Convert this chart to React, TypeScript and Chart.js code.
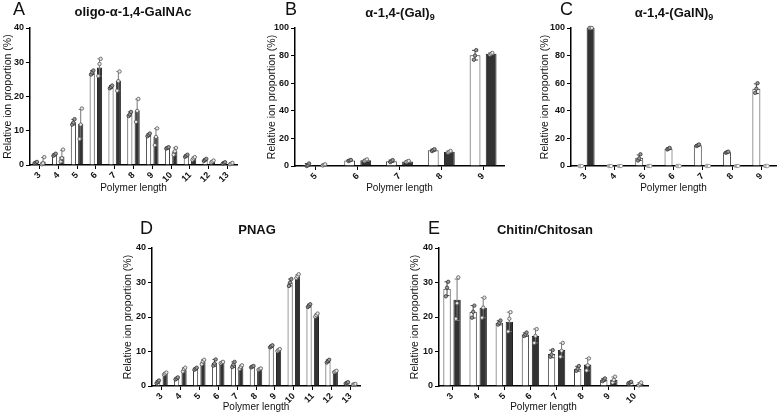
import React, { useEffect, useRef } from "react";
import { Chart, registerables } from "chart.js";

Chart.register(...registerables);

const FONT = "'Liberation Sans', Arial, sans-serif";

const Y_TITLE = "Relative ion proportion (%)";
const X_TITLE = "Polymer length";

// ---------- Panel A: oligo-α-1,4-GalNAc ----------
const catsA = ["3", "4", "5", "6", "7", "8", "9", "10", "11", "12", "13"];
const meanA1 = [0.7, 3.0, 12.5, 27.0, 22.8, 14.9, 8.8, 5.0, 2.7, 1.5, 0.6];
const sdA1 = [0.2, 0.3, 0.8, 0.6, 0.4, 0.6, 0.4, 0.2, 0.3, 0.3, 0.2];
const repA1 = [[0.5, 0.7, 0.9], [2.7, 3.0, 3.3], [11.8, 12.4, 13.4], [26.4, 27.0, 27.6], [22.4, 22.8, 23.2], [14.3, 14.8, 15.5], [8.4, 8.8, 9.2], [4.8, 5.0, 5.2], [2.4, 2.7, 3.0], [1.2, 1.5, 1.8], [0.4, 0.6, 0.8]];
const meanA2 = [1.0, 2.5, 12.0, 28.5, 24.5, 15.9, 8.2, 4.0, 1.9, 1.0, 0.4];
const sdA2 = [1.2, 1.8, 4.2, 2.5, 2.8, 3.3, 2.4, 1.0, 0.4, 0.3, 0.2];
const repA2 = [[0.2, 0.5, 2.3], [1.0, 2.0, 4.5], [7.6, 11.8, 16.5], [26.0, 29.5, 31.0], [21.7, 24.5, 27.3], [12.6, 15.8, 19.3], [5.8, 8.2, 10.7], [3.0, 4.0, 5.0], [1.5, 1.9, 2.3], [0.7, 1.0, 1.3], [0.2, 0.4, 0.6]];

// ---------- Panel B: α-1,4-(Gal)9 ----------
const catsB = ["5", "6", "7", "8", "9"];
const meanB1 = [0.8, 4.0, 3.5, 11.5, 80.3];
const sdB1 = [1.0, 0.4, 0.8, 0.7, 3.5];
const repB1 = [[0.0, 0.5, 1.8], [3.6, 4.0, 4.4], [2.8, 3.5, 4.3], [10.8, 11.5, 12.2], [77.0, 80.0, 84.0]];
const meanB2 = [0.8, 4.2, 3.3, 10.3, 81.3];
const sdB2 = [0.4, 0.6, 0.4, 0.6, 0.6];
const repB2 = [[0.4, 0.8, 1.2], [3.6, 4.2, 4.8], [2.9, 3.3, 3.7], [9.7, 10.3, 10.9], [80.7, 81.3, 81.9]];

// ---------- Panel C: α-1,4-(GalN)9 ----------
const catsC = ["3", "4", "5", "6", "7", "8", "9"];
const meanC1 = [0, 0, 6.0, 12.5, 15.0, 10.0, 56.0];
const sdC1 = [0, 0, 2.0, 0.6, 0.6, 0.5, 3.5];
const repC1 = [[0, 0, 0], [0, 0, 0], [4.0, 5.5, 8.5], [12.0, 12.5, 13.1], [14.5, 15.0, 15.6], [9.6, 10.0, 10.4], [53.0, 56.0, 60.0]];
const meanC2 = [100, 0, 0, 0, 0, 0, 0];
const sdC2 = [0, 0, 0, 0, 0, 0, 0];
const repC2 = [[100, 100, 100], [0, 0, 0], [0, 0, 0], [0, 0, 0], [0, 0, 0], [0, 0, 0], [0, 0, 0]];

// ---------- Panel D: PNAG ----------
const catsD = ["3", "4", "5", "6", "7", "8", "9", "10", "11", "12", "13"];
const meanD1 = [1.2, 2.2, 5.0, 6.7, 6.2, 5.6, 11.5, 30.0, 23.3, 7.2, 0.9];
const sdD1 = [0.4, 0.3, 0.3, 1.0, 0.8, 0.2, 0.3, 1.0, 0.4, 0.4, 0.2];
const repD1 = [[0.8, 1.2, 1.6], [1.9, 2.2, 2.5], [4.7, 5.0, 5.3], [5.9, 6.5, 7.7], [5.5, 6.2, 7.0], [5.4, 5.6, 5.8], [11.2, 11.5, 11.8], [29.0, 30.0, 31.0], [22.9, 23.3, 23.7], [6.8, 7.2, 7.6], [0.7, 0.9, 1.1]];
const meanD2 = [3.6, 4.8, 7.0, 6.8, 5.5, 4.9, 10.4, 31.8, 20.5, 4.2, 0.5];
const sdD2 = [0.3, 0.5, 0.6, 0.2, 0.5, 0.2, 0.3, 0.5, 0.4, 0.2, 0.1];
const repD2 = [[3.3, 3.6, 3.9], [4.2, 4.9, 5.3], [6.3, 7.1, 7.6], [6.6, 6.8, 7.0], [4.9, 5.5, 6.0], [4.7, 4.9, 5.1], [10.1, 10.4, 10.7], [31.3, 31.8, 32.4], [20.1, 20.5, 21.0], [4.0, 4.2, 4.4], [0.4, 0.5, 0.6]];

// ---------- Panel E: Chitin/Chitosan ----------
const catsE = ["3", "4", "5", "6", "7", "8", "9", "10"];
const meanE1 = [28.2, 21.5, 18.3, 14.9, 9.3, 5.0, 1.8, 1.0];
const sdE1 = [2.0, 1.8, 0.6, 0.5, 1.1, 0.7, 0.4, 0.2];
const repE1 = [[26.0, 28.5, 30.2], [19.8, 21.5, 23.3], [17.8, 18.3, 19.0], [14.5, 14.9, 15.5], [8.5, 9.1, 10.4], [4.4, 5.0, 5.8], [1.4, 1.8, 2.2], [0.8, 1.0, 1.2]];
const meanE2 = [25.0, 22.7, 18.6, 14.5, 10.4, 6.2, 1.8, 0.6];
const sdE2 = [6.0, 2.9, 2.8, 2.0, 2.0, 1.8, 0.8, 0.4];
const repE2 = [[19.5, 24.0, 31.5], [19.8, 22.7, 25.6], [15.8, 19.5, 21.4], [12.5, 14.5, 16.5], [8.5, 10.2, 12.5], [4.5, 6.0, 8.0], [1.0, 1.8, 2.7], [0.2, 0.6, 1.0]];

type Seg = { t: string; sub?: boolean };
type PanelCfg = {
  letter: string;
  title: Seg[];
  cats: string[];
  m1: number[]; s1: number[]; r1: number[][];
  m2: number[]; s2: number[]; r2: number[][];
  yMax: number; yStep: number;
  box: { left: number; top: number; width: number; height: number };
  area: { l: number; t: number; r: number; b: number };
  yTitleX: number; xTitleY: number;
  letterPos: { x: number; y: number };
  titlePos: { x: number; y: number };
  catPct: number; barPct: number; cap: number;
};

const panels: PanelCfg[] = [
  {
    letter: "A", title: [{ t: "oligo-α-1,4-GalNAc" }], cats: catsA,
    m1: meanA1, s1: sdA1, r1: repA1, m2: meanA2, s2: sdA2, r2: repA2,
    yMax: 40, yStep: 10,
    box: { left: 0, top: 0, width: 250, height: 200 },
    area: { l: 30, t: 28, r: 237, b: 165 },
    yTitleX: 8, xTitleY: 188,
    letterPos: { x: 13, y: 15 }, titlePos: { x: 133, y: 16 },
    catPct: 0.78, barPct: 0.7, cap: 2,
  },
  {
    letter: "B", title: [{ t: "α-1,4-(Gal)" }, { t: "9", sub: true }], cats: catsB,
    m1: meanB1, s1: sdB1, r1: repB1, m2: meanB2, s2: sdB2, r2: repB2,
    yMax: 100, yStep: 20,
    box: { left: 255, top: 0, width: 255, height: 200 },
    area: { l: 295, t: 28, r: 504, b: 166 },
    yTitleX: 272, xTitleY: 188,
    letterPos: { x: 285, y: 15 }, titlePos: { x: 400, y: 17 },
    catPct: 0.77, barPct: 0.67, cap: 3,
  },
  {
    letter: "C", title: [{ t: "α-1,4-(GalN)" }, { t: "9", sub: true }], cats: catsC,
    m1: meanC1, s1: sdC1, r1: repC1, m2: meanC2, s2: sdC2, r2: repC2,
    yMax: 100, yStep: 20,
    box: { left: 530, top: 0, width: 248, height: 200 },
    area: { l: 571, t: 28, r: 776, b: 166 },
    yTitleX: 545, xTitleY: 188,
    letterPos: { x: 560, y: 15 }, titlePos: { x: 674, y: 17 },
    catPct: 0.68, barPct: 0.8, cap: 2.5,
  },
  {
    letter: "D", title: [{ t: "PNAG" }], cats: catsD,
    m1: meanD1, s1: sdD1, r1: repD1, m2: meanD2, s2: sdD2, r2: repD2,
    yMax: 40, yStep: 10,
    box: { left: 115, top: 200, width: 255, height: 213 },
    area: { l: 152, t: 248, r: 360, b: 386 },
    yTitleX: 128, xTitleY: 407,
    letterPos: { x: 140, y: 234 }, titlePos: { x: 257, y: 234 },
    catPct: 0.78, barPct: 0.7, cap: 2,
  },
  {
    letter: "E", title: [{ t: "Chitin/Chitosan" }], cats: catsE,
    m1: meanE1, s1: sdE1, r1: repE1, m2: meanE2, s2: sdE2, r2: repE2,
    yMax: 40, yStep: 10,
    box: { left: 400, top: 200, width: 260, height: 213 },
    area: { l: 439, t: 248, r: 648, b: 386 },
    yTitleX: 415, xTitleY: 407,
    letterPos: { x: 428, y: 234 }, titlePos: { x: 545, y: 234 },
    catPct: 0.77, barPct: 0.73, cap: 2.5,
  },
];

function makeDecor(cfg: PanelCfg) {
  return {
    id: "decor" + cfg.letter,
    afterDatasetsDraw(chart: any) {
      const ctx = chart.ctx as CanvasRenderingContext2D;
      const ys = chart.scales.y;
      const sets = [
        { m: cfg.m1, s: cfg.s1, r: cfg.r1, line: "#444", fill: "#9a9a9a", stroke: "#333" },
        { m: cfg.m2, s: cfg.s2, r: cfg.r2, line: "#777", fill: "#e8e8e8", stroke: "#555" },
      ];
      const offs = [-1.2, 0, 1.2];
      sets.forEach((set, di) => {
        const meta = chart.getDatasetMeta(di);
        meta.data.forEach((el: any, j: number) => {
          const x = el.x;
          const mean = set.m[j];
          const sd = set.s[j];
          ctx.save();
          if (sd > 0) {
            const yTop = ys.getPixelForValue(mean + sd);
            const yBot = ys.getPixelForValue(Math.max(0, mean - sd));
            ctx.strokeStyle = set.line;
            ctx.lineWidth = 1;
            ctx.beginPath();
            ctx.moveTo(x, yTop);
            ctx.lineTo(x, yBot);
            ctx.moveTo(x - cfg.cap, yTop);
            ctx.lineTo(x + cfg.cap, yTop);
            ctx.moveTo(x - cfg.cap, yBot);
            ctx.lineTo(x + cfg.cap, yBot);
            ctx.stroke();
          }
          set.r[j].forEach((v, k) => {
            const py = ys.getPixelForValue(v);
            ctx.beginPath();
            ctx.arc(x + offs[k], py, 1.7, 0, Math.PI * 2);
            ctx.fillStyle = mean === 0 ? "#fff" : set.fill;
            ctx.fill();
            ctx.lineWidth = 0.8;
            ctx.strokeStyle = mean === 0 ? "#888" : set.stroke;
            ctx.stroke();
          });
          ctx.restore();
        });
      });
    },
    afterDraw(chart: any) {
      const ctx = chart.ctx as CanvasRenderingContext2D;
      const ox = cfg.box.left;
      const oy = cfg.box.top;
      ctx.save();
      ctx.fillStyle = "#111";
      ctx.textBaseline = "alphabetic";
      ctx.textAlign = "left";
      ctx.font = `18px ${FONT}`;
      ctx.fillText(cfg.letter, cfg.letterPos.x - ox, cfg.letterPos.y - oy);
      // title with optional subscript
      const mainFont = `bold 13px ${FONT}`;
      const subFont = `bold 9px ${FONT}`;
      let total = 0;
      cfg.title.forEach((s) => {
        ctx.font = s.sub ? subFont : mainFont;
        total += ctx.measureText(s.t).width;
      });
      let x = cfg.titlePos.x - ox - total / 2;
      const y = cfg.titlePos.y - oy;
      cfg.title.forEach((s) => {
        ctx.font = s.sub ? subFont : mainFont;
        ctx.fillText(s.t, x, s.sub ? y + 3 : y);
        x += ctx.measureText(s.t).width;
      });
      ctx.restore();
    },
  };
}

function Panel({ cfg }: { cfg: PanelCfg }) {
  const ref = useRef<HTMLCanvasElement | null>(null);
  useEffect(() => {
    if (!ref.current) return;
    const { box, area } = cfg;
    const tickFont = { family: FONT, size: 9, weight: "bold" as const };
    const chart = new Chart(ref.current, {
      type: "bar",
      data: {
        labels: cfg.cats,
        datasets: [
          {
            data: cfg.m1,
            backgroundColor: "#ffffff",
            borderColor: "#3a3a3a",
            borderWidth: 1,
            categoryPercentage: cfg.catPct,
            barPercentage: cfg.barPct,
          },
          {
            data: cfg.m2,
            backgroundColor: "#333333",
            borderColor: "#222222",
            borderWidth: 1,
            categoryPercentage: cfg.catPct,
            barPercentage: cfg.barPct,
          },
        ],
      },
      options: {
        responsive: false,
        animation: false,
        layout: {
          padding: {
            left: 0,
            bottom: 0,
            top: area.t - box.top,
            right: box.left + box.width - area.r,
          },
        },
        plugins: {
          legend: { display: false },
          tooltip: { enabled: false },
          title: { display: false },
        },
        scales: {
          x: {
            offset: true,
            grid: { display: true, drawOnChartArea: false, offset: false, tickLength: 4, color: "#000", lineWidth: 1 },
            border: { display: true, color: "#000", width: 1.5 },
            ticks: { minRotation: 45, maxRotation: 45, autoSkip: false, font: tickFont, color: "#111", padding: 1 },
            title: {
              display: true,
              text: X_TITLE,
              color: "#111",
              font: { family: FONT, size: 10 },
              padding: { top: 0, bottom: Math.max(0, box.top + box.height - cfg.xTitleY - 6) },
            },
            afterFit: (s: any) => {
              s.height = box.top + box.height - area.b;
            },
          },
          y: {
            min: 0,
            max: cfg.yMax,
            grid: { display: true, drawOnChartArea: false, tickLength: 4, color: "#000", lineWidth: 1 },
            border: { display: true, color: "#000", width: 1.5 },
            ticks: { stepSize: cfg.yStep, font: tickFont, color: "#111", padding: 2 },
            title: {
              display: true,
              text: Y_TITLE,
              color: "#111",
              font: { family: FONT, size: 10.5 },
              padding: { top: Math.max(0, cfg.yTitleX - box.left - 6), bottom: 0 },
            },
            afterFit: (s: any) => {
              s.width = area.l - box.left;
            },
          },
        },
      },
      plugins: [makeDecor(cfg)],
    } as any);
    return () => chart.destroy();
  }, [cfg]);
  return (
    <canvas
      ref={ref}
      width={cfg.box.width}
      height={cfg.box.height}
      style={{
        position: "absolute",
        left: cfg.box.left,
        top: cfg.box.top,
        width: cfg.box.width,
        height: cfg.box.height,
      }}
    />
  );
}

export default function App() {
  return (
    <div
      style={{
        position: "absolute",
        left: 0,
        top: 0,
        width: 778,
        height: 413,
        background: "#fff",
        overflow: "hidden",
      }}
    >
      {panels.map((p) => (
        <Panel key={p.letter} cfg={p} />
      ))}
    </div>
  );
}
